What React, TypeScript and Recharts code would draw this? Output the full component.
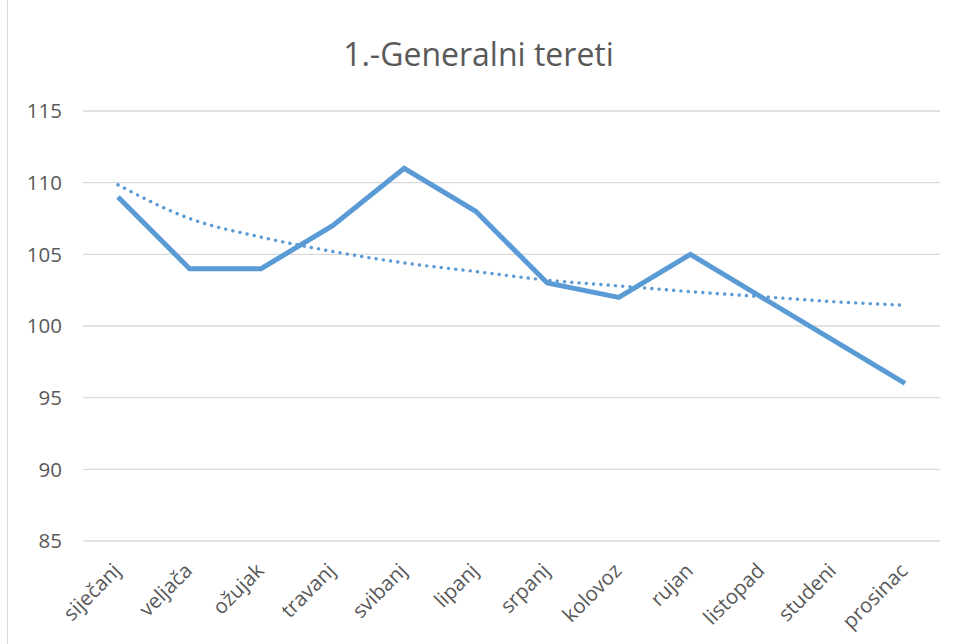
import React from 'react';
import { LineChart, Line, XAxis, YAxis, CartesianGrid } from 'recharts';

const MONTHS = ['siječanj', 'veljača', 'ožujak', 'travanj', 'svibanj', 'lipanj', 'srpanj', 'kolovoz', 'rujan', 'listopad', 'studeni', 'prosinac'];
const VALUES = [109, 104, 104, 107, 111, 108, 103, 102, 105, 102, 99, 96];
const TREND = [109.85, 107.5, 106.2, 105.2, 104.4, 103.8, 103.2, 102.8, 102.4, 102.05, 101.7, 101.45];
const Y_TICKS = [85, 90, 95, 100, 105, 110, 115];

const BLUE = '#5b9bd5';
const TEXT = '#595959';
const FONT = "'Open Sans', 'Noto Sans', sans-serif";

const data = MONTHS.map((m, i) => ({ month: m, value: VALUES[i], trend: TREND[i] }));

function MonthTick(props: any) {
  const { x, y, payload } = props;
  return (
    <g transform={`translate(${x + 4},${y + 23})`}>
      <text
        textAnchor="end"
        transform="rotate(-45)"
        fill={TEXT}
        fontSize={20.5}
        fontFamily={FONT}
      >
        {payload.value}
      </text>
    </g>
  );
}

export default function App() {
  return (
    <div style={{ position: 'absolute', left: 0, top: 0, width: 957, height: 644, background: '#fff', overflow: 'hidden' }}>
      <div style={{ position: 'absolute', left: 7, top: 0, width: 1, height: 644, background: '#d9d9d9' }} />
      <div
        style={{
          position: 'absolute', left: 0, top: 32, width: 957, textAlign: 'center',
          fontFamily: FONT, fontSize: 32, color: TEXT,
        }}
      >
        1.-Generalni tereti
      </div>
      <LineChart width={957} height={644} data={data} margin={{ top: 111, right: 17, bottom: 0, left: 0 }}>
        <CartesianGrid vertical={false} stroke="#d9d9d9" strokeWidth={1.3} />
        <XAxis
          dataKey="month"
          axisLine={false}
          tickLine={false}
          height={103}
          interval={0}
          padding={{ left: 35, right: 35 }}
          tick={<MonthTick />}
        />
        <YAxis
          domain={[85, 115]}
          ticks={Y_TICKS}
          width={83}
          axisLine={false}
          tickLine={false}
          tickSize={0}
          tickMargin={21}
          tick={{ fill: TEXT, fontSize: 20.5, fontFamily: FONT }}
        />
        <Line
          dataKey="trend"
          stroke={BLUE}
          strokeWidth={3.4}
          strokeDasharray="0.1 7.2"
          strokeLinecap="round"
          type="monotone"
          dot={false}
          isAnimationActive={false}
        />
        <Line
          dataKey="value"
          stroke={BLUE}
          strokeWidth={5}
          type="linear"
          dot={false}
          isAnimationActive={false}
        />
      </LineChart>
    </div>
  );
}
